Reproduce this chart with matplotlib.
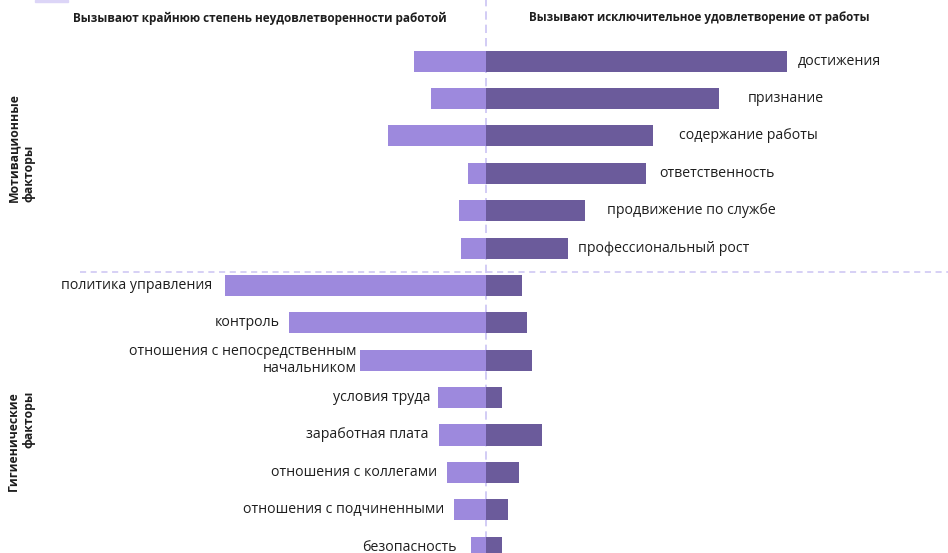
import matplotlib.pyplot as plt
from matplotlib.patches import Rectangle

plt.rcParams["font.family"] = ["Open Sans", "DejaVu Sans"]

# --- data (share of cases, %) ---
motivators = [
    "достижения",
    "признание",
    "содержание работы",
    "ответственность",
    "продвижение по службе",
    "профессиональный рост",
]
hygiene = [
    "политика управления",
    "контроль",
    "отношения с непосредственным\nначальником",
    "условия труда",
    "заработная плата",
    "отношения с коллегами",
    "отношения с подчиненными",
    "безопасность",
]
motiv_dissat = [9.8, 7.5, 13.3, 2.4, 3.7, 3.4]
motiv_sat = [41.0, 31.7, 22.7, 21.8, 13.5, 11.2]
hyg_dissat = [35.5, 26.8, 17.1, 6.5, 6.4, 5.3, 4.4, 2.0]
hyg_sat = [4.9, 5.6, 6.3, 2.2, 7.6, 4.5, 3.0, 2.2]

title_left = "Вызывают крайнюю степень неудовлетворенности работой"
title_right = "Вызывают исключительное удовлетворение от работы"
group_motiv = "Мотивационные\nфакторы"
group_hyg = "Гигиенические\nфакторы"

# --- layout / style ---
W, H = 948, 553
PX = 7.35      # pixels per percent
ROW = 37.4     # pixels per row
X0, Y0 = 486, 61
LIGHT = "#9d89dd"
DARK = "#6b5b9b"
GRID = "#cbc3f3"
TXT = "#1e1e1e"
motiv_gap = [10, 29, 26, 13, 22, 10]          # label gap, px
hyg_gap = [13, 9, 4, 8, 10, 10, 9, 15]

fig = plt.figure(figsize=(W / 100, H / 100), dpi=100)
ax = fig.add_axes([0, 0, 1, 1])
ax.axis("off")
ax.set_xlim(-X0 / PX, (W - X0) / PX)
ax.set_ylim((H - Y0) / ROW, -Y0 / ROW)

labels = motivators + hygiene
dissat = motiv_dissat + hyg_dissat
sat = motiv_sat + hyg_sat
ys = list(range(len(labels)))
bh = 21 / ROW

ax.barh(ys, [-d for d in dissat], height=bh, color=LIGHT, zorder=2)
ax.barh(ys, sat, height=bh, color=DARK, zorder=2)

# dashed guides
ax.axvline(0, color=GRID, lw=1.2, ls=(0, (5, 3)), zorder=1)
ax.plot([(80 - X0) / PX, (W - X0) / PX], [(272 - Y0) / ROW] * 2,
        color=GRID, lw=1.1, ls=(0, (4, 3)), zorder=1)

# factor labels
for i, name in enumerate(motivators):
    ax.annotate(name, xy=(motiv_sat[i], i), xytext=(motiv_gap[i] * 0.72, 0),
                textcoords="offset points", ha="left", va="center",
                fontsize=10.2, color=TXT)
for j, name in enumerate(hygiene):
    i = len(motivators) + j
    ax.annotate(name, xy=(-hyg_dissat[j], i), xytext=(-hyg_gap[j] * 0.72, 0),
                textcoords="offset points", ha="right", va="center",
                multialignment="right", fontsize=10.2, color=TXT,
                linespacing=1.15)

# headers
fig.text(260 / W, 1 - 18 / H, title_left, ha="center", va="center",
         fontsize=8.5, fontweight="bold", color=TXT)
fig.text(699 / W, 1 - 18 / H, title_right, ha="center", va="center",
         fontsize=8.4, fontweight="bold", color=TXT)

fig.text(21 / W, 1 - 148 / H, group_motiv, rotation=90, ha="center",
         va="center", multialignment="left", fontsize=8.8,
         fontweight="bold", color=TXT)
fig.text(21 / W, 1 - 441 / H, group_hyg, rotation=90, ha="center",
         va="center", multialignment="right", fontsize=8.8,
         fontweight="bold", color=TXT)

# bit of a legend swatch peeking in at the top edge
fig.patches.append(Rectangle((35 / W, 1 - 2 / H), 33 / W, 2 / H,
                             transform=fig.transFigure, color="#dcd5f7"))

fig.savefig("out.png", dpi=100)
